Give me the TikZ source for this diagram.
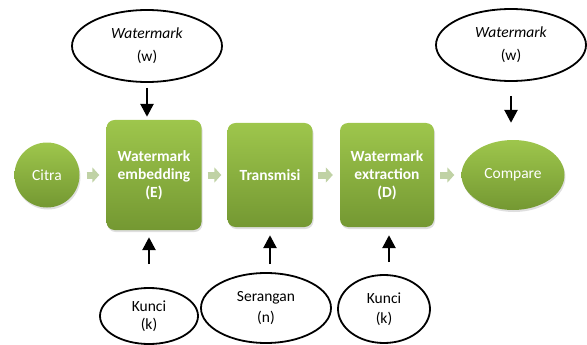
\documentclass[tikz,border=0pt]{standalone}
\usepackage{fontspec}
\setmainfont{Carlito}
\usetikzlibrary{arrows.meta,shadows,shapes.geometric}
\definecolor{hijauAtas}{RGB}{158,198,76}
\definecolor{hijauBawah}{RGB}{116,152,50}
\definecolor{panahHijau}{RGB}{192,210,165}
\begin{document}
\begin{tikzpicture}[x=1pt,y=-1pt,
		font=\fontsize{15.5}{18}\selectfont,
		kotak/.style={draw=none,rounded corners=8pt,top color=hijauAtas,bottom color=hijauBawah,
			text=white,font=\fontsize{15.5}{18}\selectfont\bfseries,align=center,inner sep=0pt,
			drop shadow={opacity=0.25,shadow xshift=1pt,shadow yshift=-2pt}},
		bulat/.style={ellipse,draw=none,top color=hijauAtas,bottom color=hijauBawah,text=white,inner sep=0pt,
			drop shadow={opacity=0.25,shadow xshift=1pt,shadow yshift=-2pt}},
		masukan/.style={ellipse,draw=black,line width=1.8pt,fill=white,align=center,inner sep=0pt},
		panah/.style={line width=2.6pt,-{Triangle[width=13pt,length=13pt]}},
		alir/.style={draw=panahHijau,line width=7pt,-{Triangle[width=15pt,length=7pt]}}]
	\useasboundingbox (0,0) rectangle (587,345);
	% Proses utama
	\node[bulat,minimum width=65pt,minimum height=65pt] (citra) at (47,175) {Citra};
	\node[kotak,minimum width=95pt,minimum height=110pt] (emb) at (154,175) {Watermark\\embedding\\(E)};
	\node[kotak,minimum width=85pt,minimum height=104pt] (trans) at (270,175) {Transmisi};
	\node[kotak,minimum width=94pt,minimum height=104pt] (ext) at (387,175) {Watermark\\extraction\\(D)};
	\node[bulat,minimum width=103pt,minimum height=70pt] (comp) at (513,175) {Compare};
	% Masukan (elips)
	\node[masukan,minimum width=150pt,minimum height=72pt] (wm1) at (147,46) {\textit{Watermark}\\[5pt](w)};
	\node[masukan,minimum width=150pt,minimum height=72pt] (wm2) at (511,45) {\textit{Watermark}\\[5pt](w)};
	\node[masukan,minimum width=98pt,minimum height=56pt] (kunci1) at (149,316) {Kunci\\(k)};
	\node[masukan,minimum width=130pt,minimum height=70pt] (serang) at (266,308) {Serangan\\[3pt](n)};
	\node[masukan,minimum width=92pt,minimum height=68pt] (kunci2) at (384,309) {Kunci\\[2pt](k)};
	% Panah alir
	\draw[alir,shorten <=7pt,shorten >=7pt] (citra) -- (emb);
	\draw[alir,shorten <=6pt,shorten >=6pt] (emb) -- (trans);
	\draw[alir,shorten <=5pt,shorten >=7pt] (trans) -- (ext);
	\draw[alir,shorten <=6pt,shorten >=7pt] (ext) -- (comp);
	% Panah masukan
	\draw[panah,shorten <=5pt,shorten >=3pt] (wm1.south) -- (wm1.south |- emb.north);
	\draw[panah,shorten <=14pt,shorten >=17pt] (wm2.south) -- (wm2.south |- comp.north);
	\draw[panah,shorten <=23pt,shorten >=7pt] (kunci1.north) -- (kunci1.north |- emb.south);
	\draw[panah,shorten <=8pt,shorten >=8pt] (serang.north -| trans.south) -- (trans.south);
	\draw[panah,shorten <=12pt,shorten >=8pt] ([xshift=5pt]kunci2.north) -- ([xshift=5pt]kunci2.north |- ext.south);
\end{tikzpicture}
\end{document}
